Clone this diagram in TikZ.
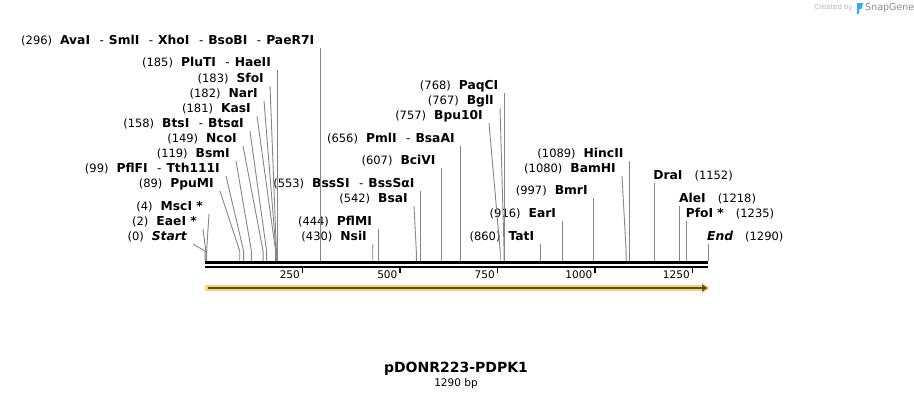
\documentclass[tikz,border=0pt]{standalone}
\usepackage{fontspec}
\setmainfont{DejaVu Sans}
\usetikzlibrary{arrows.meta}

\definecolor{featfill}{HTML}{FFD17E}
\definecolor{featline}{HTML}{5E4B2A}
\definecolor{sgblue}{HTML}{3FA9E6}

\newcommand{\bpnum}[1]{{\fontsize{11.5}{13}\selectfont(#1)}\hspace{8pt}}
\newcommand{\rbpnum}[1]{\hspace{12pt}{\fontsize{11.5}{13}\selectfont(#1)}}
\newcommand{\enz}[1]{{\fontsize{12.3}{14}\selectfont\bfseries #1}}
\newcommand{\enzsep}{\hspace{9.5pt}{\fontsize{12}{14}\selectfont -}\hspace{5pt}}

\begin{document}
\begin{tikzpicture}[x=1pt,y=-1pt,
  lbl/.style={inner sep=0pt, anchor=east, text height=9pt, text depth=2.5pt},
  rlbl/.style={lbl, anchor=west},
  cut/.style={draw=black!48, line width=0.9pt}]

  \useasboundingbox (0,0) rectangle (914,400);

  % sequence
  \coordinate (seqL) at (205,262.5);
  \coordinate (seqR) at (708,262.5);
  \draw[line width=2.6pt] (seqL) -- (seqR);
  \draw[line width=2pt] ([yshift=-4pt]seqL) -- ([yshift=-4pt]seqR);

  \foreach \t/\x in {250/302.5,500/400.0,750/497.4,1000/594.9,1250/692.4}{
    \draw[line width=1.6pt] (\x,267) -- (\x,273);
    \node[lbl, font=\fontsize{10.5}{12}\selectfont] (tick\t) at (\x-2.5,275) {\t};
  }

  % feature
  \fill[featfill] (205,284.8) rectangle (703,291.2);
  \fill[featfill] (702,282.3) -- (709.5,288) -- (702,293.7) -- cycle;
  \draw[featline, line width=2.6pt, -{Triangle[length=5.5pt,width=6.5pt]}] (208,288) -- (707.5,288);

  % left labels
  \node[lbl] (l296) at (314.4,41) {\bpnum{296}\enz{AvaI}\enzsep\enz{SmlI}\enzsep\enz{XhoI}\enzsep\enz{BsoBI}\enzsep\enz{PaeR7I}};
  \node[lbl] (l185) at (271.1,63) {\bpnum{185}\enz{PluTI}\enzsep\enz{HaeII}};
  \node[lbl] (l183) at (264,79) {\bpnum{183}\enz{SfoI}};
  \node[lbl] (l182) at (258,94) {\bpnum{182}\enz{NarI}};
  \node[lbl] (l181) at (251,109) {\bpnum{181}\enz{KasI}};
  \node[lbl] (l158) at (244,124) {\bpnum{158}\enz{BtsI}\enzsep\enz{BtsαI}};
  \node[lbl] (l149) at (237,139) {\bpnum{149}\enz{NcoI}};
  \node[lbl] (l119) at (230,154) {\bpnum{119}\enz{BsmI}};
  \node[lbl] (l99) at (220,169) {\bpnum{99}\enz{PflFI}\enzsep\enz{Tth111I}};
  \node[lbl] (l89) at (214,184) {\bpnum{89}\enz{PpuMI}};
  \node[lbl] (l4) at (203,207) {\bpnum{4}\enz{MscI *}};
  \node[lbl] (l2) at (197,222) {\bpnum{2}\enz{EaeI *}};
  \node[lbl] (l0) at (187,237) {\bpnum{0}\enz{\itshape Start}};

  % middle labels
  \node[lbl] (l444) at (372.1,222) {\bpnum{444}\enz{PflMI}};
  \node[lbl] (l430) at (367,237) {\bpnum{430}\enz{NsiI}};
  \node[lbl] (l553) at (414.6,184) {\bpnum{553}\enz{BssSI}\enzsep\enz{BssSαI}};
  \node[lbl] (l542) at (408,199) {\bpnum{542}\enz{BsaI}};
  \node[lbl] (l607) at (435.7,161) {\bpnum{607}\enz{BciVI}};
  \node[lbl] (l656) at (454.8,139) {\bpnum{656}\enz{PmlI}\enzsep\enz{BsaAI}};
  \node[lbl] (l757) at (483,116) {\bpnum{757}\enz{Bpu10I}};
  \node[lbl] (l767) at (494,101) {\bpnum{767}\enz{BglI}};
  \node[lbl] (l768) at (498.5,86) {\bpnum{768}\enz{PaqCI}};
  \node[lbl] (l860) at (534.3,237) {\bpnum{860}\enz{TatI}};
  \node[lbl] (l916) at (556.2,214) {\bpnum{916}\enz{EarI}};
  \node[lbl] (l997) at (587.8,191) {\bpnum{997}\enz{BmrI}};
  \node[lbl] (l1080) at (616,169) {\bpnum{1080}\enz{BamHI}};
  \node[lbl] (l1089) at (623.6,154) {\bpnum{1089}\enz{HincII}};

  % right labels
  \node[rlbl] (l1152) at (653.2,176) {\enz{DraI}\rbpnum{1152}};
  \node[rlbl] (l1218) at (678.9,199) {\enz{AleI}\rbpnum{1218}};
  \node[rlbl] (l1235) at (685.6,214) {\enz{PfoI *}\rbpnum{1235}};
  \node[rlbl] (l1290) at (707,237) {\enz{\itshape End}\rbpnum{1290}};

  \foreach \s/\x in {296/320.4,185/277.1,183/276.4,182/276.0,181/275.6,158/266.6,
      149/263.1,119/251.4,99/243.6,89/239.7,4/206.6,2/205.8,0/205.0,
      444/378.1,430/372.7,553/420.6,542/416.3,607/441.7,656/460.8,757/500.2,
      767/504.1,768/504.5,860/540.3,916/562.2,997/593.8,1080/626.1,1089/629.6}{
    \coordinate (b\s) at (\x,261);
    \draw[cut] ([shift={(6,7)}]l\s.east) -- ([yshift=10pt]b\s) -- (b\s);
  }
  \foreach \s/\x in {1152/654.2,1218/679.9,1235/686.6,1290/708.0}{
    \coordinate (b\s) at (\x,261);
    \draw[cut] ([shift={(1,7)}]l\s.west) -- (b\s);
  }

  % title
  \node[font=\fontsize{14}{16}\selectfont\bfseries] (title) at (456,369) {pDONR223-PDPK1};
  \node[font=\fontsize{10.5}{12}\selectfont] (size) at (456,384) {1290 bp};

  % credit
  \node[anchor=east, inner sep=0pt, text=black!30, font=\fontsize{7}{8}\selectfont] (made) at (853,8) {Created by};
  \fill[sgblue] (857,3) -- (863,3) -- (862,8.5) -- (859.5,9) -- (859,14) -- (857,14) -- cycle;
  \node[anchor=west, inner sep=0pt, text=black!45, font=\fontsize{9.5}{11}\selectfont] (sgname) at (865,8) {SnapGene};

\end{tikzpicture}
\end{document}
